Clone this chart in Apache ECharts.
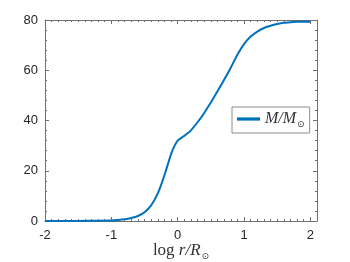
<!DOCTYPE html>
<html>
<head>
<meta charset="utf-8">
<script src="https://cdn.jsdelivr.net/npm/echarts@6/dist/echarts.min.js"></script>
<style>html,body{margin:0;padding:0;background:#fff;}#c{width:350px;height:262px;}</style>
</head>
<body>
<div id="c"></div>
<script>
var logR = [-2.0, -1.5, -1.2, -1.0, -0.9, -0.8, -0.7, -0.6, -0.5, -0.4, -0.3, -0.2, -0.1, -0.05, 0.0, 0.05, 0.1, 0.15, 0.2, 0.3, 0.4, 0.5, 0.6, 0.7, 0.8, 0.9, 1.0, 1.1, 1.2, 1.3, 1.4, 1.5, 1.6, 1.7, 1.8, 1.9, 2.0];
var mass = [0.0, 0.02, 0.1, 0.2, 0.4, 0.7, 1.2, 2.0, 3.5, 6.2, 11.0, 18.2, 26.6, 29.8, 32.0, 33.0, 33.9, 34.9, 36.1, 39.3, 43.0, 47.2, 51.6, 56.2, 61.0, 66.2, 70.4, 73.4, 75.4, 76.8, 77.7, 78.4, 78.9, 79.1, 79.3, 79.3, 79.3];
var xTicks = [-2, -1, 0, 1, 2];
var yTicks = [0, 20, 40, 60, 80];

var pts = logR.map(function (v, i) { return [v, mass[i]]; });
var axisColor = '#707070';
var labelColor = '#262626';
var font = '"Liberation Sans", Arial, sans-serif';
var serif = '"Liberation Serif", "DejaVu Serif", serif';

function majorX(pos, showLabel) {
  return {
    type: 'value', position: pos, min: -2, max: 2.1, interval: 1,
    axisLine: { show: true, onZero: false, lineStyle: { color: axisColor, width: 1 } },
    axisTick: { show: true, inside: true, length: 4, lineStyle: { color: axisColor } },
    axisLabel: {
      show: showLabel, margin: 8, color: labelColor, fontSize: 13, fontFamily: font,
      formatter: function (v) { return xTicks.indexOf(Math.round(v * 10) / 10) >= 0 ? String(v) : ''; }
    },
    splitLine: { show: false }
  };
}
function minorX(pos) {
  return {
    type: 'value', position: pos, min: -2, max: 2.1, interval: 0.1,
    axisLine: { show: false, onZero: false },
    axisTick: { show: true, inside: true, length: 2, lineStyle: { color: axisColor } },
    axisLabel: { show: false }, splitLine: { show: false }
  };
}
function majorY(pos, showLabel) {
  return {
    type: 'value', position: pos, min: 0, max: 80, interval: 20,
    axisLine: { show: true, onZero: false, lineStyle: { color: axisColor, width: 1 } },
    axisTick: { show: true, inside: true, length: 4, lineStyle: { color: axisColor } },
    axisLabel: {
      show: showLabel, margin: 7, color: labelColor, fontSize: 13, fontFamily: font,
      formatter: function (v) { return yTicks.indexOf(v) >= 0 ? String(v) : ''; }
    },
    splitLine: { show: false }
  };
}
function minorY(pos) {
  return {
    type: 'value', position: pos, min: 0, max: 80, interval: 4,
    axisLine: { show: false, onZero: false },
    axisTick: { show: true, inside: true, length: 2, lineStyle: { color: axisColor } },
    axisLabel: { show: false }, splitLine: { show: false }
  };
}

var xMain = majorX('bottom', true);
xMain.name = '{n|log }{i|r/R}{s|⊙}';
xMain.nameLocation = 'middle';
xMain.nameGap = 21;
xMain.nameMoveOverlap = false;
xMain.nameTextStyle = {
  color: labelColor,
  rich: {
    n: { fontFamily: serif, fontSize: 17, color: '#333', verticalAlign: 'bottom' },
    i: { fontFamily: serif, fontStyle: 'italic', fontSize: 17, color: '#333', verticalAlign: 'bottom' },
    s: { fontFamily: '"DejaVu Sans", sans-serif', fontSize: 9, color: '#333', verticalAlign: 'bottom', padding: [0, 0, -2, 1] }
  }
};

var chart = echarts.init(document.getElementById('c'), null, { renderer: 'canvas' });
chart.setOption({
  animation: false,
  backgroundColor: '#fff',
  grid: { left: 45, right: 33, top: 20, bottom: 41, containLabel: false, outerBoundsMode: 'none' },
  xAxis: [xMain, minorX('bottom'), majorX('top', false), minorX('top')],
  yAxis: [majorY('left', true), minorY('left'), majorY('right', false), minorY('right')],
  legend: {
    show: true, left: 232, top: 107, orient: 'horizontal',
    padding: [4, 5, 4, 5],
    itemWidth: 23, itemHeight: 14, itemGap: 3,
    borderColor: '#8c8c8c', borderWidth: 1, backgroundColor: '#fff',
    formatter: function () { return '{i|M/M}{s|⊙}'; },
    textStyle: {
      color: '#333',
      rich: {
        i: { fontFamily: serif, fontStyle: 'italic', fontSize: 16, color: '#333', verticalAlign: 'bottom' },
        s: { fontFamily: '"DejaVu Sans", sans-serif', fontSize: 9, color: '#333', verticalAlign: 'bottom', padding: [0, 0, -2, 1] }
      }
    },
    data: [{ name: 'M', icon: 'path://M0,0L1,0L1,0.14L0,0.14Z' }]
  },
  series: [{
    name: 'M', type: 'line', data: pts, xAxisIndex: 0, yAxisIndex: 0,
    symbol: 'none', smooth: 0.35,
    lineStyle: { color: '#0072BD', width: 2 }, itemStyle: { color: '#0072BD' }
  }]
});
</script>
</body>
</html>
